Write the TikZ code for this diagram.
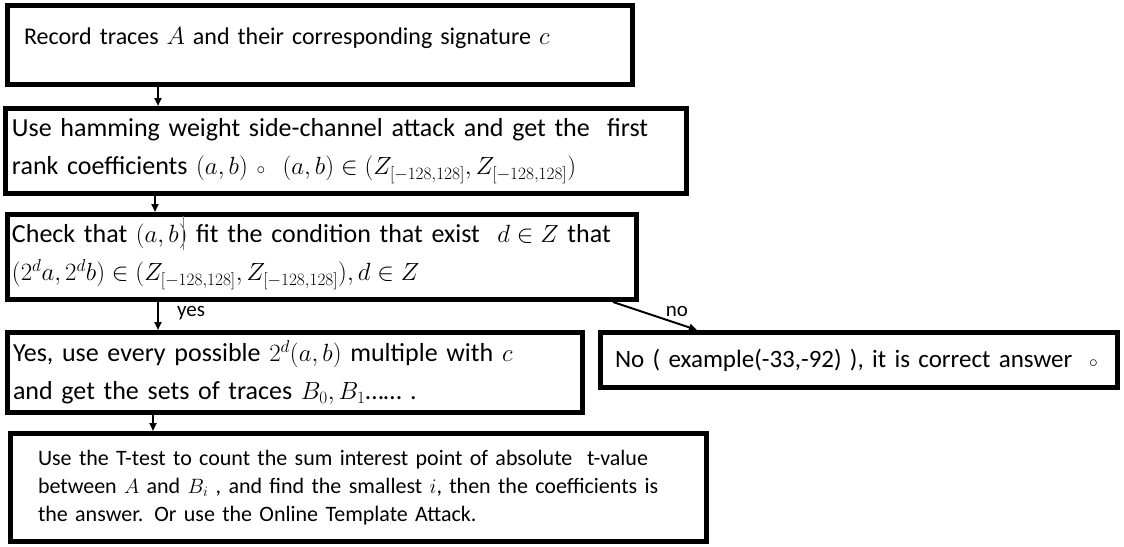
\documentclass[tikz,border=0pt]{standalone}
\usepackage{fontspec}
\setmainfont{Carlito}
\usetikzlibrary{arrows.meta}
\tikzset{
  boite/.style={draw, line width=5pt, align=left, anchor=north west, inner ysep=0pt,
    font=\fontsize{26}{38}\selectfont},
  fleche/.style={-{Triangle[length=8pt,width=7pt]}, line width=2pt},
  etiquette/.style={inner sep=0pt, font=\fontsize{21}{24}\selectfont}
}
\begin{document}
\begin{tikzpicture}[x=1pt, y=-1pt]
    \useasboundingbox (0,0) rectangle (1124,546);
    %boites
    \node[boite, minimum width=625pt, minimum height=79pt, inner xsep=16.5pt, text width=592pt,
      text depth=19pt, font=\fontsize{24}{30}\selectfont] (b1) at (5,3)
      {Record traces $A$ and their corresponding signature $c$};
    \node[boite, minimum width=681pt, minimum height=85pt, inner xsep=6.5pt, text width=668pt] (b2) at (3,106)
      {Use hamming weight side-channel attack and get the\ \ first\\
       rank coefficients $(a,b)$ $\scriptstyle\circ$\ \ $(a,b)\in(Z_{[-128,128]},Z_{[-128,128]})$};
    \node[boite, minimum width=629pt, minimum height=85pt, inner xsep=4.5pt, text width=620pt] (b3) at (5,212)
      {Check that $(a,b)$ fit the condition that exist\ \ $d\in Z$ that\\
       $(2^d a,2^d b)\in\bigl(Z_{[-128,128]},Z_{[-128,128]}\bigr),d\in Z$};
    \node[boite, minimum width=575pt, minimum height=80pt, inner xsep=5.5pt, text width=564pt] (b4) at (5,330)
      {Yes, use every possible $2^d(a,b)$ multiple with $c$\\
       and get the sets of traces $B_0,B_1$\ldots\ldots\ .};
    \node[boite, minimum width=517pt, minimum height=55pt, inner xsep=14.5pt, text width=488pt,
      font=\fontsize{25}{30}\selectfont] (b5) at (598,330)
      {\mbox{No ( example(-33,-92) ), it is correct answer\ \ $\scriptstyle\circ$}};
    \node[boite, minimum width=696pt, minimum height=108pt, inner xsep=27.5pt, text width=641pt,
      font=\fontsize{22}{28}\selectfont] (b6) at (8,431)
      {Use the T-test to count the sum interest point of absolute\ \ t-value\\
       between $A$ and $B_i$ , and find the smallest $i$, then the coefficients is\\
       the answer. Or use the Online Template Attack.};
    %trait du curseur
    \draw[gray, line width=0.8pt] (183,216) -- (183,250);
    %fleches
    \draw[fleche] (b1.south -| 158,0) -- (b2.north -| 158,0);
    \draw[fleche] (b2.south -| 155,0) -- (b3.north -| 155,0);
    \draw[fleche] (b3.south -| 158,0) -- (b4.north -| 158,0);
    \draw[fleche] (b4.south -| 153,0) -- (b6.north -| 153,0);
    \draw[fleche] (b3.south -| 613,0) -- (b5.north -| 697,0);
    %etiquettes
    \node[etiquette] (oui) at (191,313) {yes};
    \node[etiquette] (non) at (677,311) {no};
  \end{tikzpicture}
\end{document}
